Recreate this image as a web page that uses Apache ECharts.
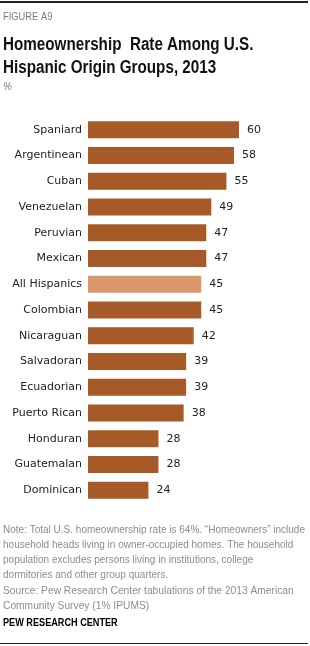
<!DOCTYPE html>
<html>
<head>
<meta charset="utf-8">
<script src="https://cdn.jsdelivr.net/npm/echarts@6/dist/echarts.min.js"></script>
<style>
  html, body { margin: 0; padding: 0; background: #fff; }
  #main { width: 310px; height: 646px; }
</style>
</head>
<body>
<div id="main"></div>
<script>
// homeownership by origin group, 2013 (%)
var groups = ['Spaniard', 'Argentinean', 'Cuban', 'Venezuelan', 'Peruvian', 'Mexican', 'All Hispanics',
              'Colombian', 'Nicaraguan', 'Salvadoran', 'Ecuadorian', 'Puerto Rican', 'Honduran', 'Guatemalan', 'Dominican'];
var rates = [60, 58, 55, 49, 47, 47, 45, 45, 42, 39, 39, 38, 28, 28, 24];
var highlight = 'All Hispanics';

var sans = '"Liberation Sans", Arial, sans-serif';
var noteColor = '#8c8c8c';

// text squeezed horizontally to mimic the condensed Pew font
function txt(x, y, text, font, fill, sx, lh) {
  return {
    type: 'text', x: x, y: y, scaleX: sx, originX: 0, originY: 0,
    style: { text: text, font: font, fill: fill, lineHeight: lh, verticalAlign: 'top' }
  };
}

var myChart = echarts.init(document.getElementById('main'));
var option = {
  backgroundColor: '#fff',
  animation: false,
  grid: { left: 88, top: 117, width: 151, height: 386 },
  xAxis: { type: 'value', min: 0, max: 60, show: false },
  yAxis: {
    type: 'category',
    data: groups,
    inverse: true,
    axisLine: { show: false },
    axisTick: { show: false },
    axisLabel: { margin: 6, color: '#222', fontFamily: 'DejaVu Sans', fontSize: 11 }
  },
  series: [{
    type: 'bar',
    barWidth: 17,
    data: rates.map(function (v, i) {
      return { value: v, itemStyle: { color: groups[i] === highlight ? '#da976a' : '#a65a28' } };
    }),
    label: { show: true, position: 'right', distance: 8, color: '#222', fontFamily: 'DejaVu Sans', fontSize: 11 }
  }],
  graphic: [
    { type: 'rect', shape: { x: 0, y: 1, width: 308, height: 2 }, style: { fill: '#222' } },
    txt(3, 10, 'FIGURE A9', '11px ' + sans, '#7a7a7a', 0.85, 13),
    txt(3, 34, 'Homeownership  Rate Among U.S.\nHispanic Origin Groups, 2013', 'bold 17.5px ' + sans, '#111', 0.87, 23),
    txt(3, 80, '%', 'italic 11px ' + sans, '#777', 0.9, 13),
    txt(3, 522, 'Note: Total U.S. homeownership rate is 64%. \u201cHomeowners\u201d include\nhousehold heads living in owner-occupied homes. The household\npopulation excludes persons living in institutions, college\ndormitories and other group quarters.',
      '11.5px ' + sans, noteColor, 0.87, 15),
    txt(3, 583, 'Source: Pew Research Center tabulations of the 2013 American\nCommunity Survey (1% IPUMS)', '11.5px ' + sans, noteColor, 0.89, 15),
    txt(3, 617, 'PEW RESEARCH CENTER', 'bold 10.5px ' + sans, '#000', 0.87, 13),
    { type: 'rect', shape: { x: 0, y: 643, width: 308, height: 1 }, style: { fill: '#222' } }
  ]
};
myChart.setOption(option);
</script>
</body>
</html>
